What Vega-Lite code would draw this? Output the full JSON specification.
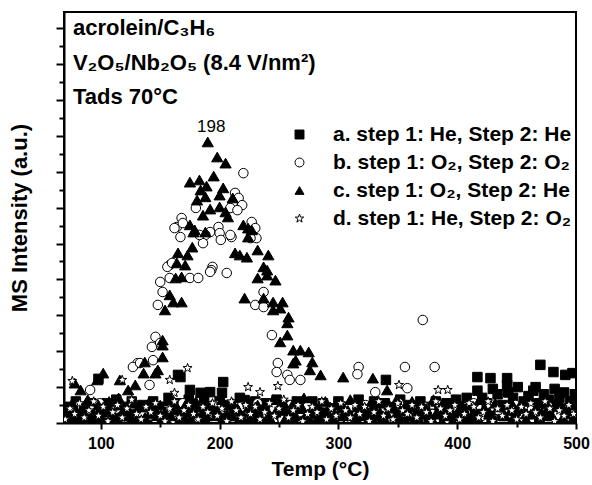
{
"$schema":"https://vega.github.io/schema/vega-lite/v6.json",
"width":512,"height":411,"autosize":{"type":"none"},
"padding":{"left":64,"top":12,"right":16,"bottom":62},
"background":"white",
"config":{"font":"Liberation Sans","view":{"stroke":"black","strokeWidth":2},"axis":{"grid":false,"domainColor":"black","tickColor":"black","domainWidth":2,"tickWidth":2,"labelColor":"black","titleColor":"black"}},
"datasets":{
"pts":[
{"s":"a","t":70,"v":45},{"s":"a","t":74,"v":20},{"s":"a","t":79,"v":60},{"s":"a","t":83,"v":35},{"s":"a","t":87,"v":15},{"s":"a","t":92,"v":55},{"s":"a","t":96,"v":40},{"s":"a","t":100,"v":25},{"s":"a","t":105,"v":55},{"s":"a","t":109,"v":30},{"s":"a","t":113,"v":65},{"s":"a","t":118,"v":20},{"s":"a","t":122,"v":45},{"s":"a","t":126,"v":60},{"s":"a","t":131,"v":30},{"s":"a","t":135,"v":50},{"s":"a","t":139,"v":20},{"s":"a","t":144,"v":60},{"s":"a","t":148,"v":40},{"s":"a","t":152,"v":25},{"s":"a","t":157,"v":70},{"s":"a","t":161,"v":35},{"s":"a","t":165,"v":55},{"s":"a","t":170,"v":20},{"s":"a","t":174,"v":65},{"s":"a","t":178,"v":45},{"s":"a","t":183,"v":30},{"s":"a","t":187,"v":70},{"s":"a","t":191,"v":40},{"s":"a","t":196,"v":20},{"s":"a","t":200,"v":60},{"s":"a","t":204,"v":35},{"s":"a","t":209,"v":50},{"s":"a","t":213,"v":25},{"s":"a","t":217,"v":70},{"s":"a","t":222,"v":45},{"s":"a","t":226,"v":30},{"s":"a","t":230,"v":60},{"s":"a","t":235,"v":20},{"s":"a","t":239,"v":55},{"s":"a","t":243,"v":40},{"s":"a","t":248,"v":65},{"s":"a","t":252,"v":25},{"s":"a","t":256,"v":50},{"s":"a","t":261,"v":35},{"s":"a","t":265,"v":60},{"s":"a","t":269,"v":20},{"s":"a","t":274,"v":45},{"s":"a","t":278,"v":60},{"s":"a","t":282,"v":30},{"s":"a","t":287,"v":55},{"s":"a","t":291,"v":25},{"s":"a","t":295,"v":40},{"s":"a","t":300,"v":60},{"s":"a","t":304,"v":35},{"s":"a","t":308,"v":20},{"s":"a","t":313,"v":50},{"s":"a","t":317,"v":65},{"s":"a","t":321,"v":30},{"s":"a","t":326,"v":45},{"s":"a","t":330,"v":60},{"s":"a","t":334,"v":25},{"s":"a","t":339,"v":55},{"s":"a","t":343,"v":40},{"s":"a","t":347,"v":20},{"s":"a","t":352,"v":65},{"s":"a","t":356,"v":35},{"s":"a","t":360,"v":50},{"s":"a","t":365,"v":30},{"s":"a","t":369,"v":60},{"s":"a","t":373,"v":45},{"s":"a","t":378,"v":25},{"s":"a","t":382,"v":60},{"s":"a","t":386,"v":40},{"s":"a","t":391,"v":55},{"s":"a","t":395,"v":20},{"s":"a","t":399,"v":65},{"s":"a","t":404,"v":35},{"s":"a","t":408,"v":70},{"s":"a","t":412,"v":50},{"s":"a","t":417,"v":90},{"s":"a","t":421,"v":70},{"s":"a","t":425,"v":55},{"s":"a","t":430,"v":95},{"s":"a","t":434,"v":80},{"s":"a","t":438,"v":50},{"s":"a","t":443,"v":85},{"s":"a","t":447,"v":70},{"s":"a","t":451,"v":100},{"s":"a","t":456,"v":60},{"s":"a","t":460,"v":75},{"s":"a","t":464,"v":90},{"s":"a","t":469,"v":55},{"s":"a","t":473,"v":80},{"s":"a","t":477,"v":65},{"s":"a","t":482,"v":95},{"s":"a","t":486,"v":70},{"s":"a","t":490,"v":85},{"s":"a","t":495,"v":60},{"s":"a","t":499,"v":80},
{"s":"a","t":72,"v":10},{"s":"a","t":77,"v":30},{"s":"a","t":81,"v":5},{"s":"a","t":86,"v":25},{"s":"a","t":90,"v":40},{"s":"a","t":95,"v":15},{"s":"a","t":99,"v":35},{"s":"a","t":103,"v":5},{"s":"a","t":108,"v":20},{"s":"a","t":112,"v":45},{"s":"a","t":117,"v":10},{"s":"a","t":121,"v":30},{"s":"a","t":125,"v":15},{"s":"a","t":130,"v":40},{"s":"a","t":134,"v":25},{"s":"a","t":139,"v":5},{"s":"a","t":143,"v":35},{"s":"a","t":147,"v":20},{"s":"a","t":152,"v":45},{"s":"a","t":156,"v":10},{"s":"a","t":161,"v":30},{"s":"a","t":165,"v":15},{"s":"a","t":169,"v":40},{"s":"a","t":174,"v":5},{"s":"a","t":178,"v":25},{"s":"a","t":183,"v":35},{"s":"a","t":187,"v":10},{"s":"a","t":191,"v":45},{"s":"a","t":196,"v":20},{"s":"a","t":200,"v":30},{"s":"a","t":205,"v":5},{"s":"a","t":209,"v":40},{"s":"a","t":213,"v":15},{"s":"a","t":218,"v":25},{"s":"a","t":222,"v":35},{"s":"a","t":227,"v":10},{"s":"a","t":231,"v":45},{"s":"a","t":235,"v":20},{"s":"a","t":240,"v":5},{"s":"a","t":244,"v":30},{"s":"a","t":249,"v":40},{"s":"a","t":253,"v":15},{"s":"a","t":257,"v":25},{"s":"a","t":262,"v":10},{"s":"a","t":266,"v":35},{"s":"a","t":271,"v":45},{"s":"a","t":275,"v":20},{"s":"a","t":279,"v":5},{"s":"a","t":284,"v":30},{"s":"a","t":288,"v":15},{"s":"a","t":293,"v":40},{"s":"a","t":297,"v":25},{"s":"a","t":301,"v":10},{"s":"a","t":306,"v":35},{"s":"a","t":310,"v":45},{"s":"a","t":315,"v":5},{"s":"a","t":319,"v":20},{"s":"a","t":323,"v":30},{"s":"a","t":328,"v":15},{"s":"a","t":332,"v":40},{"s":"a","t":337,"v":10},{"s":"a","t":341,"v":25},{"s":"a","t":345,"v":35},{"s":"a","t":350,"v":5},{"s":"a","t":354,"v":45},{"s":"a","t":359,"v":20},{"s":"a","t":363,"v":30},{"s":"a","t":367,"v":10},{"s":"a","t":372,"v":40},{"s":"a","t":376,"v":15},{"s":"a","t":381,"v":25},{"s":"a","t":385,"v":35},{"s":"a","t":389,"v":5},{"s":"a","t":394,"v":45},{"s":"a","t":398,"v":20},{"s":"a","t":403,"v":30},{"s":"a","t":407,"v":10},{"s":"a","t":411,"v":40},{"s":"a","t":416,"v":15},{"s":"a","t":420,"v":25},{"s":"a","t":425,"v":45},{"s":"a","t":429,"v":5},{"s":"a","t":433,"v":35},{"s":"a","t":438,"v":20},{"s":"a","t":442,"v":30},{"s":"a","t":447,"v":10},{"s":"a","t":451,"v":40},{"s":"a","t":455,"v":15},{"s":"a","t":460,"v":25},{"s":"a","t":464,"v":45},{"s":"a","t":469,"v":5},{"s":"a","t":473,"v":35},{"s":"a","t":477,"v":20},{"s":"a","t":482,"v":30},{"s":"a","t":486,"v":10},{"s":"a","t":491,"v":40},{"s":"a","t":495,"v":25},{"s":"a","t":499,"v":15},
{"s":"a","t":165,"v":134},{"s":"a","t":167,"v":128},{"s":"a","t":175,"v":92},{"s":"a","t":203,"v":114},{"s":"a","t":192,"v":86},{"s":"a","t":184,"v":84},{"s":"a","t":202,"v":84},{"s":"a","t":221,"v":64},{"s":"a","t":98,"v":123},{"s":"a","t":340,"v":120},{"s":"a","t":470,"v":162},{"s":"a","t":417,"v":128},{"s":"a","t":428,"v":125},{"s":"a","t":442,"v":125},{"s":"a","t":442,"v":106},{"s":"a","t":466,"v":100},{"s":"a","t":481,"v":142},{"s":"a","t":491,"v":134},{"s":"a","t":497,"v":139},
{"s":"b","t":71,"v":20},{"s":"b","t":78,"v":45},{"s":"b","t":85,"v":10},{"s":"b","t":92,"v":35},{"s":"b","t":99,"v":55},{"s":"b","t":106,"v":25},{"s":"b","t":113,"v":40},{"s":"b","t":120,"v":15},{"s":"b","t":127,"v":50},{"s":"b","t":134,"v":30},{"s":"b","t":141,"v":20},{"s":"b","t":148,"v":45},{"s":"b","t":155,"v":35},{"s":"b","t":162,"v":10},{"s":"b","t":169,"v":55},{"s":"b","t":176,"v":25},{"s":"b","t":183,"v":40},{"s":"b","t":190,"v":20},{"s":"b","t":197,"v":50},{"s":"b","t":204,"v":30},{"s":"b","t":211,"v":15},{"s":"b","t":218,"v":45},{"s":"b","t":225,"v":35},{"s":"b","t":232,"v":55},{"s":"b","t":239,"v":25},{"s":"b","t":246,"v":40},{"s":"b","t":253,"v":10},{"s":"b","t":260,"v":50},{"s":"b","t":267,"v":30},{"s":"b","t":274,"v":45},{"s":"b","t":281,"v":20},{"s":"b","t":288,"v":55},{"s":"b","t":295,"v":35},{"s":"b","t":302,"v":15},{"s":"b","t":309,"v":45},{"s":"b","t":316,"v":25},{"s":"b","t":323,"v":50},{"s":"b","t":330,"v":30},{"s":"b","t":337,"v":40},{"s":"b","t":344,"v":15},{"s":"b","t":351,"v":55},{"s":"b","t":358,"v":20},{"s":"b","t":365,"v":35},{"s":"b","t":372,"v":45},{"s":"b","t":379,"v":25},{"s":"b","t":386,"v":50},{"s":"b","t":393,"v":10},{"s":"b","t":400,"v":40},{"s":"b","t":407,"v":30},{"s":"b","t":414,"v":55},{"s":"b","t":421,"v":20},{"s":"b","t":428,"v":45},{"s":"b","t":435,"v":35},{"s":"b","t":442,"v":25},{"s":"b","t":449,"v":50},{"s":"b","t":456,"v":15},{"s":"b","t":463,"v":40},{"s":"b","t":470,"v":30},{"s":"b","t":477,"v":45},{"s":"b","t":484,"v":20},{"s":"b","t":491,"v":35},{"s":"b","t":498,"v":25},
{"s":"b","t":220,"v":696},{"s":"b","t":213,"v":641},{"s":"b","t":216,"v":627},{"s":"b","t":219,"v":607},{"s":"b","t":211,"v":613},{"s":"b","t":209,"v":599},{"s":"b","t":215,"v":593},{"s":"b","t":180,"v":599},{"s":"b","t":168,"v":571},{"s":"b","t":164,"v":546},{"s":"b","t":167,"v":518},{"s":"b","t":162,"v":543},{"s":"b","t":199,"v":546},{"s":"b","t":192,"v":532},{"s":"b","t":188,"v":524},{"s":"b","t":200,"v":529},{"s":"b","t":186,"v":501},{"s":"b","t":201,"v":510},{"s":"b","t":210,"v":518},{"s":"b","t":227,"v":560},{"s":"b","t":230,"v":543},{"s":"b","t":231,"v":515},{"s":"b","t":226,"v":515},{"s":"b","t":169,"v":557},{"s":"b","t":183,"v":524},{"s":"b","t":209,"v":524},{"s":"b","t":158,"v":440},{"s":"b","t":156,"v":435},{"s":"b","t":160,"v":446},{"s":"b","t":194,"v":435},{"s":"b","t":193,"v":426},{"s":"b","t":206,"v":418},{"s":"b","t":150,"v":393},{"s":"b","t":158,"v":404},{"s":"b","t":175,"v":404},{"s":"b","t":182,"v":404},{"s":"b","t":192,"v":421},{"s":"b","t":152,"v":365},{"s":"b","t":148,"v":329},{"s":"b","t":237,"v":365},{"s":"b","t":230,"v":329},{"s":"b","t":237,"v":323},{"s":"b","t":244,"v":245},{"s":"b","t":146,"v":240},{"s":"b","t":143,"v":212},{"s":"b","t":150,"v":223},{"s":"b","t":131,"v":167},{"s":"b","t":127,"v":156},{"s":"b","t":144,"v":175},{"s":"b","t":133,"v":167},{"s":"b","t":249,"v":167},{"s":"b","t":248,"v":142},{"s":"b","t":257,"v":134},{"s":"b","t":259,"v":120},{"s":"b","t":141,"v":106},{"s":"b","t":91,"v":92},{"s":"b","t":268,"v":120},{"s":"b","t":317,"v":156},{"s":"b","t":316,"v":136},{"s":"b","t":356,"v":156},{"s":"b","t":381,"v":156},{"s":"b","t":371,"v":287},{"s":"b","t":331,"v":86},{"s":"b","t":358,"v":97},
{"s":"c","t":72,"v":30},{"s":"c","t":76,"v":55},{"s":"c","t":81,"v":15},{"s":"c","t":85,"v":45},{"s":"c","t":89,"v":65},{"s":"c","t":94,"v":25},{"s":"c","t":98,"v":50},{"s":"c","t":102,"v":35},{"s":"c","t":107,"v":60},{"s":"c","t":111,"v":20},{"s":"c","t":115,"v":70},{"s":"c","t":120,"v":40},{"s":"c","t":124,"v":25},{"s":"c","t":128,"v":55},{"s":"c","t":133,"v":45},{"s":"c","t":137,"v":15},{"s":"c","t":141,"v":60},{"s":"c","t":146,"v":35},{"s":"c","t":150,"v":50},{"s":"c","t":154,"v":25},{"s":"c","t":159,"v":65},{"s":"c","t":163,"v":40},{"s":"c","t":167,"v":20},{"s":"c","t":172,"v":55},{"s":"c","t":176,"v":30},{"s":"c","t":180,"v":60},{"s":"c","t":185,"v":45},{"s":"c","t":189,"v":20},{"s":"c","t":193,"v":50},{"s":"c","t":198,"v":35},{"s":"c","t":202,"v":65},{"s":"c","t":206,"v":25},{"s":"c","t":211,"v":55},{"s":"c","t":215,"v":40},{"s":"c","t":219,"v":15},{"s":"c","t":224,"v":60},{"s":"c","t":228,"v":30},{"s":"c","t":232,"v":50},{"s":"c","t":237,"v":45},{"s":"c","t":241,"v":20},{"s":"c","t":245,"v":65},{"s":"c","t":250,"v":35},{"s":"c","t":254,"v":55},{"s":"c","t":258,"v":25},{"s":"c","t":263,"v":60},{"s":"c","t":267,"v":40},{"s":"c","t":271,"v":70},{"s":"c","t":276,"v":30},{"s":"c","t":280,"v":50},{"s":"c","t":284,"v":20},{"s":"c","t":289,"v":60},{"s":"c","t":293,"v":45},{"s":"c","t":297,"v":25},{"s":"c","t":302,"v":55},{"s":"c","t":306,"v":35},{"s":"c","t":310,"v":65},{"s":"c","t":315,"v":20},{"s":"c","t":319,"v":50},{"s":"c","t":323,"v":40},{"s":"c","t":328,"v":60},{"s":"c","t":332,"v":30},{"s":"c","t":336,"v":55},{"s":"c","t":341,"v":25},{"s":"c","t":345,"v":45},{"s":"c","t":349,"v":65},{"s":"c","t":354,"v":35},{"s":"c","t":358,"v":20},{"s":"c","t":362,"v":60},{"s":"c","t":367,"v":40},{"s":"c","t":371,"v":50},{"s":"c","t":375,"v":30},{"s":"c","t":380,"v":65},{"s":"c","t":384,"v":25},{"s":"c","t":388,"v":55},{"s":"c","t":393,"v":45},{"s":"c","t":397,"v":20},{"s":"c","t":401,"v":60},{"s":"c","t":406,"v":35},{"s":"c","t":410,"v":50},{"s":"c","t":414,"v":30},{"s":"c","t":419,"v":65},{"s":"c","t":423,"v":40},{"s":"c","t":427,"v":25},{"s":"c","t":432,"v":55},{"s":"c","t":436,"v":45},{"s":"c","t":440,"v":20},{"s":"c","t":445,"v":60},{"s":"c","t":449,"v":35},{"s":"c","t":453,"v":50},{"s":"c","t":458,"v":25},{"s":"c","t":462,"v":65},{"s":"c","t":466,"v":40},{"s":"c","t":471,"v":30},{"s":"c","t":475,"v":55},{"s":"c","t":479,"v":20},{"s":"c","t":484,"v":60},{"s":"c","t":488,"v":45},{"s":"c","t":492,"v":35},{"s":"c","t":497,"v":50},{"s":"c","t":500,"v":25},
{"s":"c","t":70,"v":20},{"s":"c","t":75,"v":5},{"s":"c","t":79,"v":35},{"s":"c","t":84,"v":15},{"s":"c","t":88,"v":45},{"s":"c","t":93,"v":25},{"s":"c","t":97,"v":10},{"s":"c","t":101,"v":40},{"s":"c","t":106,"v":30},{"s":"c","t":110,"v":5},{"s":"c","t":115,"v":50},{"s":"c","t":119,"v":20},{"s":"c","t":123,"v":35},{"s":"c","t":128,"v":15},{"s":"c","t":132,"v":45},{"s":"c","t":137,"v":10},{"s":"c","t":141,"v":25},{"s":"c","t":145,"v":40},{"s":"c","t":150,"v":5},{"s":"c","t":154,"v":30},{"s":"c","t":159,"v":20},{"s":"c","t":163,"v":50},{"s":"c","t":167,"v":15},{"s":"c","t":172,"v":35},{"s":"c","t":176,"v":10},{"s":"c","t":181,"v":45},{"s":"c","t":185,"v":25},{"s":"c","t":189,"v":5},{"s":"c","t":194,"v":40},{"s":"c","t":198,"v":30},{"s":"c","t":203,"v":15},{"s":"c","t":207,"v":50},{"s":"c","t":211,"v":20},{"s":"c","t":216,"v":35},{"s":"c","t":220,"v":10},{"s":"c","t":225,"v":45},{"s":"c","t":229,"v":5},{"s":"c","t":233,"v":25},{"s":"c","t":238,"v":40},{"s":"c","t":242,"v":15},{"s":"c","t":247,"v":30},{"s":"c","t":251,"v":50},{"s":"c","t":255,"v":10},{"s":"c","t":260,"v":35},{"s":"c","t":264,"v":20},{"s":"c","t":269,"v":45},{"s":"c","t":273,"v":5},{"s":"c","t":277,"v":25},{"s":"c","t":282,"v":40},{"s":"c","t":286,"v":15},{"s":"c","t":291,"v":30},{"s":"c","t":295,"v":10},{"s":"c","t":299,"v":50},{"s":"c","t":304,"v":20},{"s":"c","t":308,"v":35},{"s":"c","t":313,"v":5},{"s":"c","t":317,"v":45},{"s":"c","t":321,"v":25},{"s":"c","t":326,"v":15},{"s":"c","t":330,"v":40},{"s":"c","t":335,"v":30},{"s":"c","t":339,"v":10},{"s":"c","t":343,"v":50},{"s":"c","t":348,"v":20},{"s":"c","t":352,"v":35},{"s":"c","t":357,"v":5},{"s":"c","t":361,"v":45},{"s":"c","t":365,"v":15},{"s":"c","t":370,"v":25},{"s":"c","t":374,"v":40},{"s":"c","t":379,"v":10},{"s":"c","t":383,"v":30},{"s":"c","t":387,"v":50},{"s":"c","t":392,"v":20},{"s":"c","t":396,"v":5},{"s":"c","t":401,"v":35},{"s":"c","t":405,"v":45},{"s":"c","t":409,"v":15},{"s":"c","t":414,"v":25},{"s":"c","t":418,"v":10},{"s":"c","t":423,"v":40},{"s":"c","t":427,"v":30},{"s":"c","t":431,"v":5},{"s":"c","t":436,"v":50},{"s":"c","t":440,"v":20},{"s":"c","t":445,"v":35},{"s":"c","t":449,"v":15},{"s":"c","t":453,"v":45},{"s":"c","t":458,"v":10},{"s":"c","t":462,"v":25},{"s":"c","t":467,"v":40},{"s":"c","t":471,"v":5},{"s":"c","t":475,"v":30},{"s":"c","t":480,"v":20},{"s":"c","t":484,"v":50},{"s":"c","t":489,"v":15},{"s":"c","t":493,"v":35},{"s":"c","t":497,"v":10},
{"s":"c","t":190,"v":783},{"s":"c","t":198,"v":741},{"s":"c","t":205,"v":724},{"s":"c","t":195,"v":688},{"s":"c","t":175,"v":671},{"s":"c","t":183,"v":677},{"s":"c","t":189,"v":660},{"s":"c","t":184,"v":649},{"s":"c","t":203,"v":655},{"s":"c","t":200,"v":635},{"s":"c","t":188,"v":630},{"s":"c","t":181,"v":621},{"s":"c","t":211,"v":627},{"s":"c","t":200,"v":602},{"s":"c","t":192,"v":596},{"s":"c","t":186,"v":579},{"s":"c","t":207,"v":574},{"s":"c","t":205,"v":588},{"s":"c","t":175,"v":552},{"s":"c","t":179,"v":538},{"s":"c","t":220,"v":552},{"s":"c","t":227,"v":538},{"s":"c","t":224,"v":518},{"s":"c","t":224,"v":543},{"s":"c","t":177,"v":490},{"s":"c","t":165,"v":474},{"s":"c","t":173,"v":468},{"s":"c","t":213,"v":474},{"s":"c","t":223,"v":462},{"s":"c","t":232,"v":482},{"s":"c","t":241,"v":468},{"s":"c","t":164,"v":446},{"s":"c","t":171,"v":440},{"s":"c","t":237,"v":435},{"s":"c","t":217,"v":468},{"s":"c","t":168,"v":407},{"s":"c","t":163,"v":404},{"s":"c","t":240,"v":426},{"s":"c","t":232,"v":404},{"s":"c","t":240,"v":412},{"s":"c","t":247,"v":398},{"s":"c","t":158,"v":357},{"s":"c","t":161,"v":337},{"s":"c","t":168,"v":337},{"s":"c","t":154,"v":315},{"s":"c","t":221,"v":348},{"s":"c","t":237,"v":348},{"s":"c","t":245,"v":337},{"s":"c","t":253,"v":337},{"s":"c","t":245,"v":315},{"s":"c","t":251,"v":320},{"s":"c","t":258,"v":295},{"s":"c","t":257,"v":279},{"s":"c","t":257,"v":245},{"s":"c","t":251,"v":226},{"s":"c","t":152,"v":231},{"s":"c","t":152,"v":184},{"s":"c","t":152,"v":217},{"s":"c","t":137,"v":170},{"s":"c","t":148,"v":148},{"s":"c","t":136,"v":139},{"s":"c","t":146,"v":139},{"s":"c","t":262,"v":203},{"s":"c","t":264,"v":175},{"s":"c","t":129,"v":106},{"s":"c","t":123,"v":92},{"s":"c","t":116,"v":120},{"s":"c","t":102,"v":139},{"s":"c","t":97,"v":120},{"s":"c","t":78,"v":111},{"s":"c","t":83,"v":92},{"s":"c","t":268,"v":203},{"s":"c","t":275,"v":198},{"s":"c","t":262,"v":167},{"s":"c","t":278,"v":170},{"s":"c","t":276,"v":148},{"s":"c","t":285,"v":134},{"s":"c","t":304,"v":128},{"s":"c","t":329,"v":125},{"s":"c","t":341,"v":92},{"s":"c","t":178,"v":532},{"s":"c","t":188,"v":532},
{"s":"d","t":70,"v":10},{"s":"d","t":74,"v":40},{"s":"d","t":78,"v":25},{"s":"d","t":82,"v":55},{"s":"d","t":86,"v":15},{"s":"d","t":90,"v":35},{"s":"d","t":94,"v":60},{"s":"d","t":98,"v":20},{"s":"d","t":102,"v":45},{"s":"d","t":106,"v":5},{"s":"d","t":110,"v":30},{"s":"d","t":114,"v":50},{"s":"d","t":118,"v":15},{"s":"d","t":122,"v":40},{"s":"d","t":126,"v":65},{"s":"d","t":130,"v":25},{"s":"d","t":134,"v":10},{"s":"d","t":138,"v":45},{"s":"d","t":142,"v":30},{"s":"d","t":146,"v":55},{"s":"d","t":150,"v":20},{"s":"d","t":154,"v":5},{"s":"d","t":158,"v":40},{"s":"d","t":162,"v":60},{"s":"d","t":166,"v":15},{"s":"d","t":170,"v":35},{"s":"d","t":174,"v":50},{"s":"d","t":178,"v":25},{"s":"d","t":182,"v":10},{"s":"d","t":186,"v":45},{"s":"d","t":190,"v":30},{"s":"d","t":194,"v":55},{"s":"d","t":198,"v":20},{"s":"d","t":202,"v":40},{"s":"d","t":206,"v":5},{"s":"d","t":210,"v":60},{"s":"d","t":214,"v":35},{"s":"d","t":218,"v":15},{"s":"d","t":222,"v":50},{"s":"d","t":226,"v":25},{"s":"d","t":230,"v":45},{"s":"d","t":234,"v":10},{"s":"d","t":238,"v":30},{"s":"d","t":242,"v":55},{"s":"d","t":246,"v":20},{"s":"d","t":250,"v":40},{"s":"d","t":254,"v":65},{"s":"d","t":258,"v":15},{"s":"d","t":262,"v":35},{"s":"d","t":266,"v":50},{"s":"d","t":270,"v":5},{"s":"d","t":274,"v":25},{"s":"d","t":278,"v":45},{"s":"d","t":282,"v":30},{"s":"d","t":286,"v":60},{"s":"d","t":290,"v":10},{"s":"d","t":294,"v":40},{"s":"d","t":298,"v":20},{"s":"d","t":302,"v":55},{"s":"d","t":306,"v":35},{"s":"d","t":310,"v":15},{"s":"d","t":314,"v":50},{"s":"d","t":318,"v":25},{"s":"d","t":322,"v":45},{"s":"d","t":326,"v":5},{"s":"d","t":330,"v":30},{"s":"d","t":334,"v":60},{"s":"d","t":338,"v":20},{"s":"d","t":342,"v":40},{"s":"d","t":346,"v":10},{"s":"d","t":350,"v":55},{"s":"d","t":354,"v":35},{"s":"d","t":358,"v":25},{"s":"d","t":362,"v":50},{"s":"d","t":366,"v":15},{"s":"d","t":370,"v":45},{"s":"d","t":374,"v":30},{"s":"d","t":378,"v":5},{"s":"d","t":382,"v":60},{"s":"d","t":386,"v":40},{"s":"d","t":390,"v":20},{"s":"d","t":394,"v":35},{"s":"d","t":398,"v":50},{"s":"d","t":402,"v":10},{"s":"d","t":406,"v":25},{"s":"d","t":410,"v":55},{"s":"d","t":414,"v":45},{"s":"d","t":418,"v":15},{"s":"d","t":422,"v":30},{"s":"d","t":426,"v":60},{"s":"d","t":430,"v":5},{"s":"d","t":434,"v":40},{"s":"d","t":438,"v":20},{"s":"d","t":442,"v":50},{"s":"d","t":446,"v":35},{"s":"d","t":450,"v":10},{"s":"d","t":454,"v":45},{"s":"d","t":458,"v":25},{"s":"d","t":462,"v":55},{"s":"d","t":466,"v":30},{"s":"d","t":470,"v":15},{"s":"d","t":474,"v":60},{"s":"d","t":478,"v":40},{"s":"d","t":482,"v":5},{"s":"d","t":486,"v":35},{"s":"d","t":490,"v":20},{"s":"d","t":494,"v":50},{"s":"d","t":498,"v":25},
{"s":"d","t":173,"v":153},{"s":"d","t":158,"v":120},{"s":"d","t":162,"v":84},{"s":"d","t":76,"v":117},{"s":"d","t":118,"v":120},{"s":"d","t":224,"v":100},{"s":"d","t":234,"v":86},{"s":"d","t":249,"v":103},{"s":"d","t":351,"v":106},{"s":"d","t":384,"v":92},{"s":"d","t":392,"v":92}
],
"lab":[{"t":193,"v":824,"label":"198"}],
"ann":[{"t":76.5,"v":1100,"label":"acrolein/C₃H₆"},{"t":76.5,"v":1003,"label":"V₂O₅/Nb₂O₅ (8.4 V/nm²)"},{"t":76.5,"v":908,"label":"Tads 70°C"}]
},
"layer":[
{"data":{"name":"pts"},
 "mark":{"type":"point","filled":true,"stroke":"black","strokeWidth":1,"opacity":1,"clip":true},
 "encoding":{
  "x":{"field":"t","type":"quantitative","scale":{"domain":[69,500],"nice":false,"zero":false},
   "axis":{"orient":"bottom","values":[100,200,300,400,500],"tickSize":6,"labelFontSize":16,"labelFontWeight":"bold","labelPadding":6,"labelFlush":false,"labelOverlap":false,"title":"Temp (°C)","titleFontSize":21,"titleFontWeight":"bold","titlePadding":7}},
  "y":{"field":"v","type":"quantitative","scale":{"domain":[0,1145],"nice":false},
   "axis":{"orient":"left","values":[0,100,200,300,400,500,600,700,800,900,1000,1100],"tickSize":8,"labels":false,"title":"MS Intensity (a.u.)","titleFontSize":22,"titleFontWeight":"bold","titlePadding":24}},
  "size":{"condition":{"test":"datum.s === 'c'","value":125},"value":90},
  "shape":{"field":"s","type":"nominal","scale":{"domain":["a","b","c","d"],"range":["square","circle","triangle-up","M0,-1L0.235,-0.324L0.951,-0.309L0.38,0.124L0.588,0.809L0,0.4L-0.588,0.809L-0.38,0.124L-0.951,-0.309L-0.235,-0.324Z"]},
   "legend":{"orient":"none","legendX":225,"legendY":112,"title":null,"labelFontSize":21,"labelFontWeight":"bold","labelColor":"black","labelLimit":500,"symbolSize":80,"symbolStrokeColor":"black","symbolStrokeWidth":1,"symbolOpacity":1,"rowPadding":6,"labelOffset":23,
   "labelExpr":"datum.value=='a'?'a. step 1: He, Step 2: He':datum.value=='b'?'b. step 1: O₂, Step 2: O₂':datum.value=='c'?'c. step 1: O₂, Step 2: He':'d. step 1: He, Step 2: O₂'",
   "encode":{"symbols":{"update":{"stroke":{"value":"black"},"strokeWidth":{"value":1}}}}}},
  "fill":{"field":"s","type":"nominal","scale":{"domain":["a","b","c","d"],"range":["black","white","black","white"]},
   "legend":{"orient":"none","legendX":225,"legendY":112,"title":null,"labelFontSize":21,"labelFontWeight":"bold","labelColor":"black","labelLimit":500,"symbolSize":80,"symbolStrokeColor":"black","symbolStrokeWidth":1,"symbolOpacity":1,"rowPadding":6,"labelOffset":23,
   "labelExpr":"datum.value=='a'?'a. step 1: He, Step 2: He':datum.value=='b'?'b. step 1: O₂, Step 2: O₂':datum.value=='c'?'c. step 1: O₂, Step 2: He':'d. step 1: He, Step 2: O₂'",
   "encode":{"symbols":{"update":{"stroke":{"value":"black"},"strokeWidth":{"value":1}}}}}}
 }},
{"data":{"name":"lab"},
 "mark":{"type":"text","fontSize":17,"color":"black","baseline":"middle","align":"center"},
 "encoding":{
  "x":{"field":"t","type":"quantitative","scale":{"domain":[69,500],"nice":false,"zero":false},
   "axis":{"orient":"bottom","values":[150,250,350,450],"tickSize":4,"labels":false,"domain":false,"title":null}},
  "y":{"field":"v","type":"quantitative","scale":{"domain":[0,1145],"nice":false},
   "axis":{"orient":"left","values":[50,150,250,350,450,550,650,750,850,950,1050],"tickSize":5,"labels":false,"domain":false,"title":null}},
  "text":{"field":"label"}
 }},
{"data":{"name":"ann"},
 "mark":{"type":"text","fontSize":22,"fontWeight":"bold","color":"black","baseline":"middle","align":"left"},
 "encoding":{
  "x":{"field":"t","type":"quantitative","scale":{"domain":[69,500],"nice":false,"zero":false},"axis":null},
  "y":{"field":"v","type":"quantitative","scale":{"domain":[0,1145],"nice":false},"axis":null},
  "text":{"field":"label"}
 }}
],
"resolve":{"axis":{"x":"independent","y":"independent"}}
}
